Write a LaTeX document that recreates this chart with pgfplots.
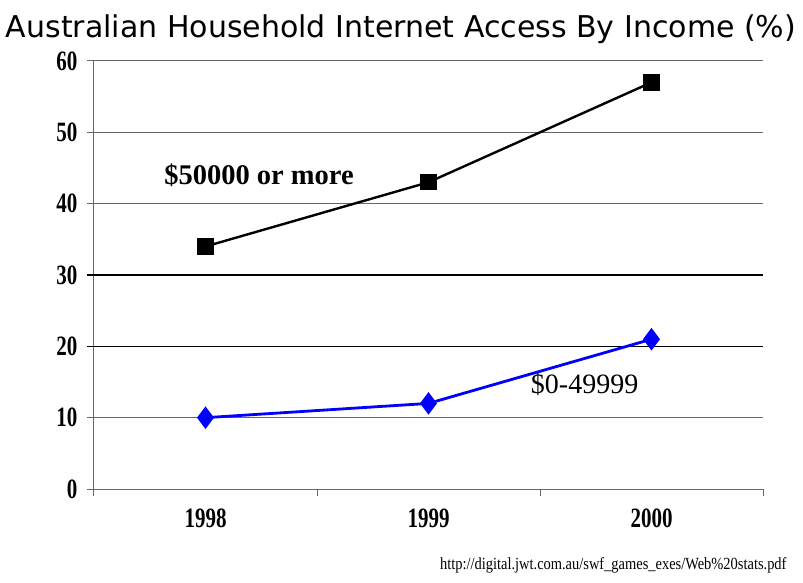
\documentclass[border=0pt]{standalone}
\usepackage{fontspec}
\setmainfont{Liberation Serif}
\newfontfamily\titlefont{DejaVu Sans}
\usepackage{graphicx}
\usepackage{pgfplots}
\pgfplotsset{compat=1.18}
\newcommand{\cn}[1]{\scalebox{0.75}[1]{\bfseries #1}}
\begin{document}
\begin{tikzpicture}
\useasboundingbox (-94pt,-93pt) rectangle (709pt,489pt);
\begin{axis}[
  at={(0,0)}, anchor=south west,
  scale only axis, width=669pt, height=428pt,
  xmin=0.5, xmax=3.5, ymin=0, ymax=60,
  axis x line=bottom, axis y line=left,
  axis line style={draw=gray!80!black, line width=1pt, -},
  xtick={0.5,1.5,2.5,3.5},
  xticklabels={},
  extra x ticks={1,2,3},
  extra x tick labels={\cn{1998},\cn{1999},\cn{2000}},
  extra x tick style={major tick length=0pt, tick style={draw=none}},
  ytick={0,10,40,50,60},
  yticklabels={\cn{0},\cn{10},\cn{40},\cn{50},\cn{60}},
  extra y ticks={20,30},
  extra y tick labels={\cn{20},\cn{30}},
  extra y tick style={grid style={black, line width=1.5pt}, tick style={draw=black, line width=1.5pt}},
  tick align=outside,
  major tick length=7pt,
  tick style={draw=gray!80!black, line width=1pt},
  ymajorgrids,
  grid style={gray!80!black, line width=1pt},
  tick label style={font=\fontsize{28}{30}\selectfont},
  xticklabel style={yshift=-16pt},
  yticklabel style={xshift=-6pt},
  clip=false,
]
\addplot[black, line width=2.4pt, mark=square*, mark size=7pt, mark options={solid, fill=black}]
  coordinates {(1,34) (2,43) (3,57)};
\addplot[blue, line width=2.8pt, mark=diamond*, mark size=9pt, mark options={solid, fill=blue}]
  coordinates {(1,10) (2,12) (3,21)};
\node[font=\fontsize{28.5}{30}\selectfont\bfseries] at (axis cs:1.24,44) {\$50000 or more};
\node[font=\fontsize{28}{30}\selectfont] at (axis cs:2.70,14.6) {\$0-49999};
\end{axis}
\node[font=\titlefont\fontsize{30}{32}\selectfont] at (307pt,460pt) {Australian Household Internet Access By Income (\%)};
\node[anchor=east, font=\fontsize{17}{19}\selectfont] at (696pt,-76pt) {\scalebox{0.85}[1]{http://digital.jwt.com.au/swf\_games\_exes/Web\%20stats.pdf}};
\end{tikzpicture}
\end{document}
